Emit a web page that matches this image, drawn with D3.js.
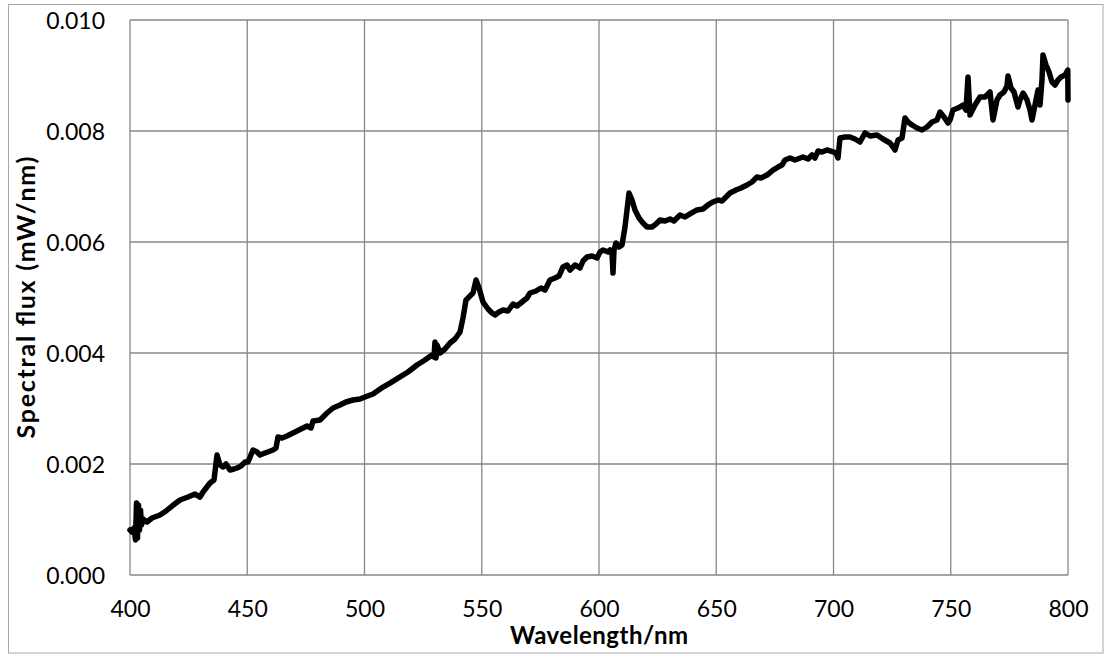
<!DOCTYPE html>
<html>
<head>
<meta charset="utf-8">
<script src="https://cdn.jsdelivr.net/npm/d3@7"></script>
<style>
  html, body { margin: 0; padding: 0; background: #fff; }
  svg { display: block; font-family: Lato, "Open Sans", sans-serif; }
</style>
</head>
<body>
<svg id="chart" width="1105" height="655"></svg>
<script>
// Measured spectrum: wavelength (nm) and spectral flux (mW/nm)
const wavelength = [
  400.0, 400.85, 401.7, 402.35, 402.77, 403.2, 403.62, 404.05, 404.48, 404.9,
  405.54, 407.25, 409.38, 412.79, 415.35, 417.91, 421.32, 424.73, 427.72, 429.85,
  431.13, 434.12, 435.82, 437.1, 438.38, 439.66, 440.94, 442.65, 444.35, 445.63,
  447.33, 449.04, 450.32, 452.45, 454.16, 455.44, 457.57, 460.98, 462.26, 463.11,
  464.82, 466.95, 470.36, 473.77, 475.48, 477.19, 478.04, 481.02, 484.01, 486.57,
  489.55, 492.11, 495.1, 498.08, 500.21, 503.62, 507.89, 510.87, 515.14, 518.55,
  522.39, 525.8, 528.78, 529.64, 530.06, 530.49, 530.92, 532.2, 534.33, 536.46,
  538.59, 540.73, 542.0, 543.28, 544.99, 546.27, 547.55, 548.83, 550.53, 552.67,
  554.37, 555.65, 557.36, 559.06, 561.19, 563.33, 565.03, 567.16, 569.3, 570.58,
  573.13, 575.27, 576.97, 579.1, 581.24, 582.94, 584.65, 586.35, 587.63, 589.77,
  591.9, 593.18, 594.88, 597.01, 599.15, 600.43, 601.71, 603.84, 604.69, 605.54,
  605.97, 606.4, 607.25, 608.53, 609.81, 611.09, 611.94, 612.79, 614.07, 615.35,
  617.06, 618.76, 620.47, 622.6, 624.31, 626.01, 628.15, 630.28, 631.98, 634.54,
  636.67, 638.81, 641.79, 644.35, 646.48, 648.62, 650.75, 652.45, 654.16, 655.86,
  658.42, 660.55, 663.11, 665.24, 667.38, 669.08, 671.64, 674.2, 676.33, 678.04,
  679.32, 681.45, 683.58, 687.0, 689.13, 690.83, 692.11, 693.39, 695.1, 697.23,
  699.79, 701.07, 701.92, 702.77, 704.9, 707.04, 709.17, 711.3, 713.43, 715.57,
  718.55, 721.11, 724.09, 725.37, 726.23, 727.51, 729.21, 730.49, 731.77, 733.48,
  735.61, 737.74, 739.87, 742.01, 744.14, 745.42, 747.12, 748.83, 749.68, 750.96,
  753.09, 755.22, 756.5, 757.35, 758.21, 760.34, 762.47, 764.61, 766.74, 768.02,
  769.72, 771.0, 772.71, 773.99, 774.41, 775.69, 776.97, 778.68, 779.53, 780.81,
  782.52, 783.8, 784.65, 785.93, 787.21, 788.06, 788.91, 789.34, 790.62, 791.9,
  793.18, 794.46, 795.74, 797.02, 798.73, 799.9, 800.0
];

const flux = [
  0.000811, 0.000775, 0.000847, 0.000631, 0.001297, 0.000667, 0.001261, 0.000811, 0.001171, 0.000901,
  0.001009, 0.000955, 0.001027, 0.001081, 0.001153, 0.001243, 0.001351, 0.001405, 0.001459, 0.001405,
  0.001495, 0.001658, 0.001712, 0.002162, 0.001982, 0.001946, 0.002000, 0.001892, 0.001910, 0.001928,
  0.001964, 0.002036, 0.002036, 0.002252, 0.002216, 0.002162, 0.002198, 0.002252, 0.002288, 0.002486,
  0.002468, 0.002505, 0.002577, 0.002649, 0.002685, 0.002649, 0.002775, 0.002793, 0.002919, 0.003009,
  0.003063, 0.003117, 0.003153, 0.003171, 0.003207, 0.003261, 0.003387, 0.003459, 0.003568, 0.003658,
  0.003784, 0.003874, 0.003964, 0.003928, 0.004198, 0.003910, 0.004144, 0.004000, 0.004072, 0.004180,
  0.004252, 0.004378, 0.004631, 0.004955, 0.005027, 0.005081, 0.005315, 0.005171, 0.004919, 0.004793,
  0.004721, 0.004685, 0.004739, 0.004775, 0.004757, 0.004883, 0.004847, 0.004919, 0.004991, 0.005081,
  0.005117, 0.005171, 0.005135, 0.005315, 0.005351, 0.005387, 0.005550, 0.005586, 0.005495, 0.005586,
  0.005532, 0.005658, 0.005730, 0.005748, 0.005712, 0.005820, 0.005856, 0.005820, 0.005856, 0.005820,
  0.005441, 0.005856, 0.005982, 0.005910, 0.005946, 0.006270, 0.006577, 0.006883, 0.006757, 0.006577,
  0.006432, 0.006342, 0.006270, 0.006270, 0.006324, 0.006396, 0.006378, 0.006414, 0.006378, 0.006486,
  0.006450, 0.006505, 0.006577, 0.006595, 0.006667, 0.006721, 0.006757, 0.006739, 0.006811, 0.006883,
  0.006937, 0.006973, 0.007027, 0.007081, 0.007171, 0.007153, 0.007207, 0.007297, 0.007351, 0.007387,
  0.007477, 0.007514, 0.007477, 0.007532, 0.007496, 0.007568, 0.007514, 0.007640, 0.007622, 0.007658,
  0.007622, 0.007604, 0.007514, 0.007874, 0.007892, 0.007892, 0.007856, 0.007802, 0.007964, 0.007910,
  0.007928, 0.007856, 0.007784, 0.007712, 0.007658, 0.007838, 0.007874, 0.008234, 0.008162, 0.008108,
  0.008054, 0.008018, 0.008072, 0.008162, 0.008198, 0.008342, 0.008252, 0.008144, 0.008198, 0.008378,
  0.008414, 0.008468, 0.008378, 0.008973, 0.008288, 0.008468, 0.008613, 0.008613, 0.008703, 0.008198,
  0.008559, 0.008649, 0.008703, 0.008811, 0.008991, 0.008775, 0.008703, 0.008432, 0.008559, 0.008685,
  0.008559, 0.008378, 0.008198, 0.008468, 0.008739, 0.008468, 0.008919, 0.009369, 0.009189, 0.009063,
  0.008883, 0.008829, 0.008919, 0.008973, 0.009009, 0.009099, 0.008559
];

// Axis ticks
const xTicks = [400, 450, 500, 550, 600, 650, 700, 750, 800];
const yTicks = [0, 0.002, 0.004, 0.006, 0.008, 0.010];

const xTitle = "Wavelength/nm";
const yTitle = "Spectral flux (mW/nm)";

const svg = d3.select("#chart");
const plot = { left: 130, top: 20, right: 1068, bottom: 575 };

// Outer chart frame
svg.append("rect")
  .attr("x", 8.5).attr("y", 4.5)
  .attr("width", 1094.5).attr("height", 648.5)
  .attr("fill", "#fff").attr("stroke", "#a6a6a6").attr("stroke-width", 1);

const x = d3.scaleLinear().domain([400, 800]).range([plot.left, plot.right]);
const y = d3.scaleLinear().domain([0, 0.010]).range([plot.bottom, plot.top]);

// Gridlines
const grid = svg.append("g").attr("stroke", "#878787").attr("stroke-width", 1.3);
grid.selectAll("line.v").data(xTicks).join("line")
  .attr("class", "v")
  .attr("x1", d => x(d)).attr("x2", d => x(d))
  .attr("y1", plot.top).attr("y2", plot.bottom);
grid.selectAll("line.h").data(yTicks).join("line")
  .attr("class", "h")
  .attr("x1", plot.left).attr("x2", plot.right)
  .attr("y1", d => y(d)).attr("y2", d => y(d));

// Axes (labels only; lines come from the grid)
const xAxis = d3.axisBottom(x).tickValues(xTicks).tickSize(0).tickPadding(0).tickFormat(d3.format("d"));
const gx = svg.append("g").attr("transform", `translate(0,${plot.bottom})`).call(xAxis);
gx.select(".domain").remove();
gx.selectAll("text")
  .attr("y", 42).attr("dy", null)
  .attr("font-size", 23).attr("font-family", "Lato, sans-serif").attr("fill", "#000");

const yAxis = d3.axisLeft(y).tickValues(yTicks).tickSize(0).tickPadding(0).tickFormat(d3.format(".3f"));
const gy = svg.append("g").attr("transform", `translate(${plot.left},0)`).call(yAxis);
gy.select(".domain").remove();
gy.selectAll("text")
  .attr("x", -25).attr("dy", "0.36em")
  .attr("font-size", 23).attr("font-family", "Lato, sans-serif").attr("fill", "#000");

// Spectrum line
const pts = wavelength.map((w, i) => [w, flux[i]]);
const line = d3.line().x(d => x(d[0])).y(d => y(d[1]));
svg.append("path")
  .datum(pts)
  .attr("d", line)
  .attr("fill", "none")
  .attr("stroke", "#000")
  .attr("stroke-width", 5.5)
  .attr("stroke-linejoin", "round")
  .attr("stroke-linecap", "round");

// Axis titles
svg.append("text")
  .attr("x", (plot.left + plot.right) / 2).attr("y", 644)
  .attr("text-anchor", "middle")
  .attr("font-size", 24).attr("font-weight", "bold")
  .attr("textLength", 178).attr("lengthAdjust", "spacing")
  .text(xTitle);

svg.append("text")
  .attr("transform", `translate(35,${(plot.top + plot.bottom) / 2}) rotate(-90)`)
  .attr("text-anchor", "middle")
  .attr("font-size", 25).attr("font-weight", "bold")
  .attr("textLength", 282).attr("lengthAdjust", "spacing")
  .text(yTitle);
</script>
</body>
</html>
